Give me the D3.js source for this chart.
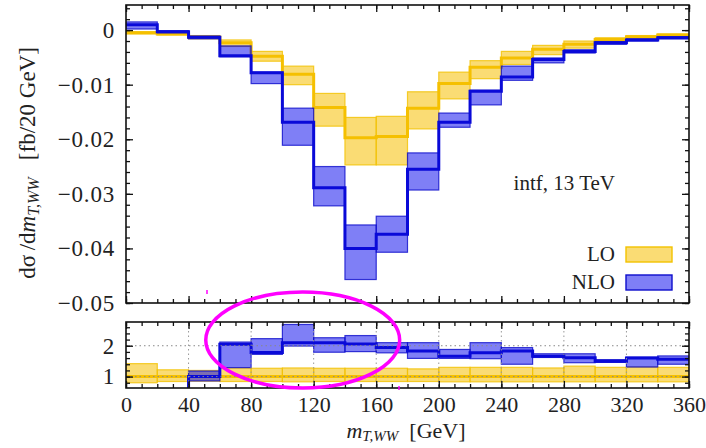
<!DOCTYPE html>
<html>
<head>
<meta charset="utf-8">
<script src="https://cdn.jsdelivr.net/npm/d3@7"></script>
<style>
  body { margin: 0; background: #fff; }
  svg { display: block; }
  text { font-family: "Liberation Serif", "DejaVu Serif", serif; fill: #222; }
</style>
</head>
<body>
<svg id="chart" width="706" height="448"></svg>
<script>
// bins of m_T,WW (GeV), 20 GeV wide
const binLow = [0, 20, 40, 60, 80, 100, 120, 140, 160, 180, 200, 220, 240, 260, 280, 300, 320, 340];
const binWidth = 20;

// main panel, dsigma/dm [fb/20 GeV]
const loCenter = [-0.0005, -0.0007, -0.0013, -0.0023, -0.0048, -0.0081, -0.0142, -0.0197, -0.0195, -0.0143, -0.0098, -0.0068, -0.0051, -0.0035, -0.0026, -0.0017, -0.0012, -0.0009];
const loUp     = [-0.0003, -0.0004, -0.0010, -0.0018, -0.0039, -0.0066, -0.0116, -0.0160, -0.0158, -0.0113, -0.0077, -0.0056, -0.0039, -0.0028, -0.0020, -0.0014, -0.0010, -0.0007];
const loDown   = [-0.0007, -0.0009, -0.0016, -0.0030, -0.0057, -0.0100, -0.0176, -0.0247, -0.0247, -0.0181, -0.0126, -0.0089, -0.0063, -0.0045, -0.0033, -0.0022, -0.0015, -0.0011];

const nloCenter = [0.0010, -0.0003, -0.0013, -0.0047, -0.0078, -0.0169, -0.0289, -0.0400, -0.0374, -0.0255, -0.0169, -0.0112, -0.0086, -0.0054, -0.0039, -0.0023, -0.0018, -0.0014];
const nloUp     = [0.0015, -0.0001, -0.0011, -0.0029, -0.0077, -0.0143, -0.0250, -0.0357, -0.0341, -0.0225, -0.0152, -0.0110, -0.0066, -0.0051, -0.0036, -0.0021, -0.0016, -0.0012];
const nloDown   = [0.0002, -0.0005, -0.0016, -0.0049, -0.0098, -0.0211, -0.0322, -0.0457, -0.0407, -0.0293, -0.0178, -0.0137, -0.0092, -0.0060, -0.0042, -0.0026, -0.0020, -0.0016];

// ratio panel (normalised to LO central)
const loRatioCenter = [1, 1, 1, 1, 1, 1, 1, 1, 1, 1, 1, 1, 1, 1, 1, 1, 1, 1];
const loRatioUp     = [1.42, 1.22, 1.20, 1.28, 1.27, 1.28, 1.27, 1.27, 1.27, 1.25, 1.30, 1.30, 1.30, 1.28, 1.34, 1.30, 1.31, 1.30];
const loRatioDown   = [0.80, 0.84, 0.85, 0.84, 0.84, 0.83, 0.84, 0.84, 0.84, 0.84, 0.83, 0.83, 0.83, 0.83, 0.83, 0.83, 0.83, 0.83];

const nloRatioCenter = [-2.0, 0.40, 1.00, 2.05, 1.78, 2.10, 2.10, 2.06, 1.94, 1.83, 1.66, 1.77, 1.83, 1.66, 1.61, 1.50, 1.60, 1.56];
const nloRatioUp     = [-1.0, 0.55, 1.18, 2.12, 2.23, 2.69, 2.26, 2.33, 2.10, 2.10, 1.88, 2.10, 1.94, 1.74, 1.74, 1.55, 1.63, 1.67];
const nloRatioDown   = [-3.0, 0.10, 0.86, 1.29, 1.72, 1.99, 1.79, 1.81, 1.77, 1.59, 1.59, 1.58, 1.40, 1.62, 1.45, 1.46, 1.31, 1.40];

const mainTicks = [0, -0.01, -0.02, -0.03, -0.04, -0.05];
const ratioTicks = [1, 2];
const xTicks = [0, 40, 80, 120, 160, 200, 240, 280, 320, 360];

const serif = '"Liberation Serif", "DejaVu Serif", serif';
const svg = d3.select('#chart');

const x = d3.scaleLinear().domain([0, 360]).range([126, 689]);
const yMain = d3.scaleLinear().domain([-0.05, 0.0046]).range([303, 5]);
const yRatio = d3.scaleLinear().domain([0.63, 2.77]).range([388, 322]);

const styles = {
    lo:  { fill: '#f6c417', opacity: 0.6, edge: '#f2c200', line: '#f5c000' },
    nlo: { fill: '#0000ee', opacity: 0.5, edge: '#0d0dcc', line: '#0a0ad8' }
};

const defs = svg.append('defs');
function clipFor(id, y) {
    defs.append('clipPath').attr('id', id)
        .append('rect')
        .attr('x', x.range()[0]).attr('y', y.range()[1])
        .attr('width', x.range()[1] - x.range()[0])
        .attr('height', y.range()[0] - y.range()[1]);
}
clipFor('clip-main', yMain);
clipFor('clip-ratio', yRatio);

function drawSeries(g, y, center, up, down, st) {
    const bins = binLow.map((b, i) => ({ b: b, c: center[i], u: up[i], d: down[i] }));
    g.append('g').selectAll('rect')
        .data(bins)
        .enter()
        .append('rect')
        .attr('x', d => x(d.b))
        .attr('width', d => x(d.b + binWidth) - x(d.b))
        .attr('y', d => y(Math.max(d.u, d.d)))
        .attr('height', d => Math.abs(y(d.d) - y(d.u)))
        .attr('fill', st.fill)
        .attr('fill-opacity', st.opacity)
        .attr('stroke', st.edge)
        .attr('stroke-opacity', 0.8)
        .attr('stroke-width', 1.2);

    const pts = bins.map(d => [d.b, d.c]);
    pts.push([binLow[binLow.length - 1] + binWidth, center[center.length - 1]]);
    g.append('path')
        .datum(pts)
        .attr('fill', 'none')
        .attr('stroke', st.line)
        .attr('stroke-width', 3)
        .attr('d', d3.line().x(d => x(d[0])).y(d => y(d[1])).curve(d3.curveStepAfter));
}

function frameAndTicks(y, majorY, minorStep, labels, fmt) {
    const g = svg.append('g');
    const [y0, y1] = y.domain();
    const minorY = d3.range(Math.ceil(y0 / minorStep) * minorStep, y1, minorStep);
    const xMinor = d3.range(0, 361, 10);
    const left = x.range()[0], right = x.range()[1];
    const top = y.range()[1], bottom = y.range()[0];

    // y ticks, both sides, pointing inward
    g.append('g').attr('transform', `translate(${left},0)`)
        .call(d3.axisLeft(y).tickValues(minorY).tickSize(-4).tickFormat(''));
    g.append('g').attr('transform', `translate(${right},0)`)
        .call(d3.axisRight(y).tickValues(minorY).tickSize(-4).tickFormat(''));
    g.append('g').attr('transform', `translate(${right},0)`)
        .call(d3.axisRight(y).tickValues(majorY).tickSize(-7).tickFormat(''));
    const yl = g.append('g').attr('transform', `translate(${left},0)`)
        .call(d3.axisLeft(y).tickValues(majorY).tickSize(-7).tickPadding(11).tickFormat(fmt));

    // x ticks, bottom and top
    g.append('g').attr('transform', `translate(0,${bottom})`)
        .call(d3.axisBottom(x).tickValues(xMinor).tickSize(-4).tickFormat(''));
    g.append('g').attr('transform', `translate(0,${top})`)
        .call(d3.axisTop(x).tickValues(xMinor).tickSize(-4).tickFormat(''));
    g.append('g').attr('transform', `translate(0,${top})`)
        .call(d3.axisTop(x).tickValues(xTicks).tickSize(-7).tickFormat(''));
    const xl = g.append('g').attr('transform', `translate(0,${bottom})`)
        .call(d3.axisBottom(x).tickValues(xTicks).tickSize(-7).tickPadding(8)
            .tickFormat(labels ? d3.format('d') : ''));

    g.selectAll('.domain').remove();
    g.selectAll('g').attr('font-family', serif);
    g.selectAll('.tick line').attr('stroke', '#111').attr('stroke-width', 1.3);
    g.selectAll('text')
        .style('font-family', serif)
        .style('font-size', '22px')
        .attr('fill', '#222');
    yl.selectAll('text').style('font-size', '23px').style('letter-spacing', '0.8px');

    g.append('rect')
        .attr('x', left).attr('y', top)
        .attr('width', right - left).attr('height', bottom - top)
        .attr('fill', 'none').attr('stroke', '#111').attr('stroke-width', 1.6);
    return g;
}

// ---- main panel ----
const mainG = svg.append('g').attr('clip-path', 'url(#clip-main)');
drawSeries(mainG, yMain, loCenter, loUp, loDown, styles.lo);
drawSeries(mainG, yMain, nloCenter, nloUp, nloDown, styles.nlo);
frameAndTicks(yMain, mainTicks, 0.002, false, d => d === 0 ? '0' : d3.format('.2f')(d));

// ---- ratio panel ----
const gridG = svg.append('g');
gridG.selectAll('line.vx')
    .data(xTicks.slice(1, -1))
    .enter().append('line')
    .attr('x1', d => x(d)).attr('x2', d => x(d))
    .attr('y1', yRatio.range()[1]).attr('y2', yRatio.range()[0])
    .attr('stroke', '#999').attr('stroke-width', 1).attr('stroke-dasharray', '1.5,3');
const ratioG = svg.append('g').attr('clip-path', 'url(#clip-ratio)');
drawSeries(ratioG, yRatio, loRatioCenter, loRatioUp, loRatioDown, styles.lo);
drawSeries(ratioG, yRatio, nloRatioCenter, nloRatioUp, nloRatioDown, styles.nlo);
gridG.raise();
gridG.selectAll('line.hy')
    .data(ratioTicks)
    .enter().append('line')
    .attr('x1', x.range()[0]).attr('x2', x.range()[1])
    .attr('y1', d => yRatio(d)).attr('y2', d => yRatio(d))
    .attr('stroke', '#888').attr('stroke-width', 1).attr('stroke-dasharray', '1.5,3');
frameAndTicks(yRatio, ratioTicks, 0.2, true, d3.format('d'));

// ---- labels ----
svg.append('text')
    .attr('x', 615).attr('y', 190)
    .attr('text-anchor', 'end')
    .attr('font-size', 21)
    .text('intf, 13 TeV');

const legend = [
    { name: 'LO', st: styles.lo, y: 247 },
    { name: 'NLO', st: styles.nlo, y: 275 }
];
const lg = svg.append('g').selectAll('g').data(legend).enter().append('g');
lg.append('text')
    .attr('x', 615).attr('y', d => d.y + 14)
    .attr('text-anchor', 'end')
    .attr('font-size', 21)
    .text(d => d.name);
lg.append('rect')
    .attr('x', 626).attr('y', d => d.y)
    .attr('width', 46).attr('height', 15)
    .attr('fill', d => d.st.fill).attr('fill-opacity', d => d.st.opacity)
    .attr('stroke', d => d.st.edge).attr('stroke-width', 1.4);

// x title
const xt = svg.append('text')
    .attr('x', 406).attr('y', 438)
    .attr('text-anchor', 'middle')
    .attr('font-size', 22)
    .attr('xml:space', 'preserve');
xt.append('tspan').attr('font-style', 'italic').text('m');
xt.append('tspan').attr('font-style', 'italic').attr('font-size', 15).attr('dy', 3).text('T,WW');
xt.append('tspan').attr('dy', -3).text('\u00a0\u00a0[GeV]');

// y title
const yt = svg.append('text')
    .attr('transform', 'translate(35,163) rotate(-90)')
    .attr('text-anchor', 'middle')
    .attr('font-size', 23);
yt.append('tspan').text('dσ\u2009/d');
yt.append('tspan').attr('font-style', 'italic').text('m');
yt.append('tspan').attr('font-style', 'italic').attr('font-size', 16).attr('dy', 4).text('T,WW');
yt.append('tspan').attr('dy', -4).text('\u00a0\u00a0\u00a0[fb/20 GeV]');

// magenta annotation around the NLO/LO excess
const ann = svg.append('g').attr('stroke', '#f0f').attr('fill', 'none');
ann.append('ellipse')
    .attr('cx', x(113)).attr('cy', 340)
    .attr('rx', x(62) - x(0)).attr('ry', 48)
    .attr('stroke-width', 3.5);
ann.append('line').attr('x1', 207).attr('x2', 207).attr('y1', 290).attr('y2', 294).attr('stroke-width', 1.5);
ann.append('line').attr('x1', 399).attr('x2', 399).attr('y1', 386).attr('y2', 390).attr('stroke-width', 1.5);
</script>
</body>
</html>
